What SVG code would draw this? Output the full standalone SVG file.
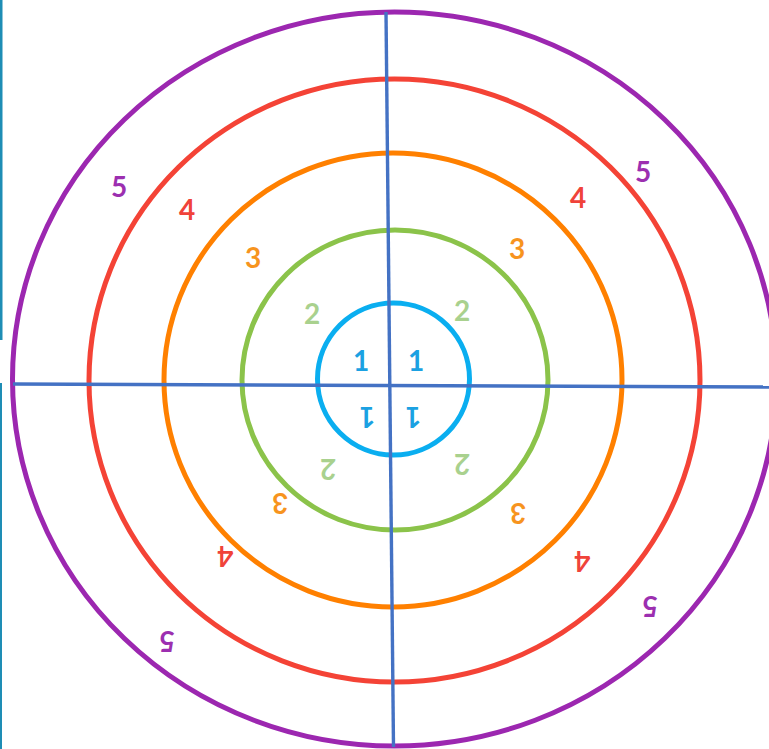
<svg xmlns="http://www.w3.org/2000/svg" width="769" height="749" viewBox="0 0 769 749">
  <style>
    .ring { fill: none; stroke-width: 5; }
    .axis { stroke: #4472C4; stroke-width: 3.4; stroke-linecap: butt; fill: none; }
    .lbl { font-family: Lato, "Open Sans", "DejaVu Sans", sans-serif; font-weight: bold; font-size: 28px; text-anchor: middle; dominant-baseline: central; }
    .c5 { fill: #9C2FB0; } .c4 { fill: #F0433A; } .c3 { fill: #F7941E; } .c2 { fill: #A9D18E; } .c1 { fill: #1BA1E2; }
  </style>
  <rect x="0" y="0" width="769" height="749" fill="#FFFFFF"/>
  <g id="edge">
    <rect x="0" y="0" width="2.5" height="340" fill="#1E8DB5"/>
    <rect x="0" y="383" width="2" height="366" fill="#1E8DB5"/>
  </g>
  <g id="ring5">
    <ellipse class="ring" cx="394.5" cy="379" rx="382" ry="367" stroke="#9C27B0"/>
    <text class="lbl c5" x="119" y="186">5</text>
    <text class="lbl c5" x="643" y="171">5</text>
    <text class="lbl c5" x="167" y="642" transform="rotate(180 167 642)">5</text>
    <text class="lbl c5" x="650" y="607" transform="rotate(180 650 607)">5</text>
  </g>
  <g id="ring4">
    <ellipse class="ring" cx="394.5" cy="380.5" rx="305.5" ry="301.5" stroke="#F44336"/>
    <text class="lbl c4" x="187" y="209">4</text>
    <text class="lbl c4" x="578" y="197">4</text>
    <text class="lbl c4" x="225" y="557" transform="rotate(180 225 557)">4</text>
    <text class="lbl c4" x="582" y="562" transform="rotate(180 582 562)">4</text>
  </g>
  <g id="ring3">
    <ellipse class="ring" cx="393" cy="380" rx="229" ry="227" stroke="#FF8000"/>
    <text class="lbl c3" x="253" y="257">3</text>
    <text class="lbl c3" x="517" y="248">3</text>
    <text class="lbl c3" x="280" y="504" transform="rotate(180 280 504)">3</text>
    <text class="lbl c3" x="518" y="514" transform="rotate(180 518 514)">3</text>
  </g>
  <g id="ring2">
    <ellipse class="ring" cx="395" cy="380" rx="153" ry="150" stroke="#8BC34A"/>
    <text class="lbl c2" x="312" y="313">2</text>
    <text class="lbl c2" x="462" y="310">2</text>
    <text class="lbl c2" x="328" y="470" transform="rotate(180 328 470)">2</text>
    <text class="lbl c2" x="462" y="465" transform="rotate(180 462 465)">2</text>
  </g>
  <g id="ring1">
    <circle class="ring" cx="393.5" cy="379" r="76" stroke="#0AAEF0"/>
    <text class="lbl c1" x="361" y="360">1</text>
    <text class="lbl c1" x="416" y="360">1</text>
    <text class="lbl c1" x="367" y="418" transform="rotate(180 367 418)">1</text>
    <text class="lbl c1" x="413" y="418" transform="rotate(180 413 418)">1</text>
  </g>
  <g id="connectors">
    <line class="axis" x1="386" y1="12" x2="393.5" y2="747"/>
    <line class="axis" x1="13" y1="384" x2="769" y2="387"/>
  </g>
</svg>
